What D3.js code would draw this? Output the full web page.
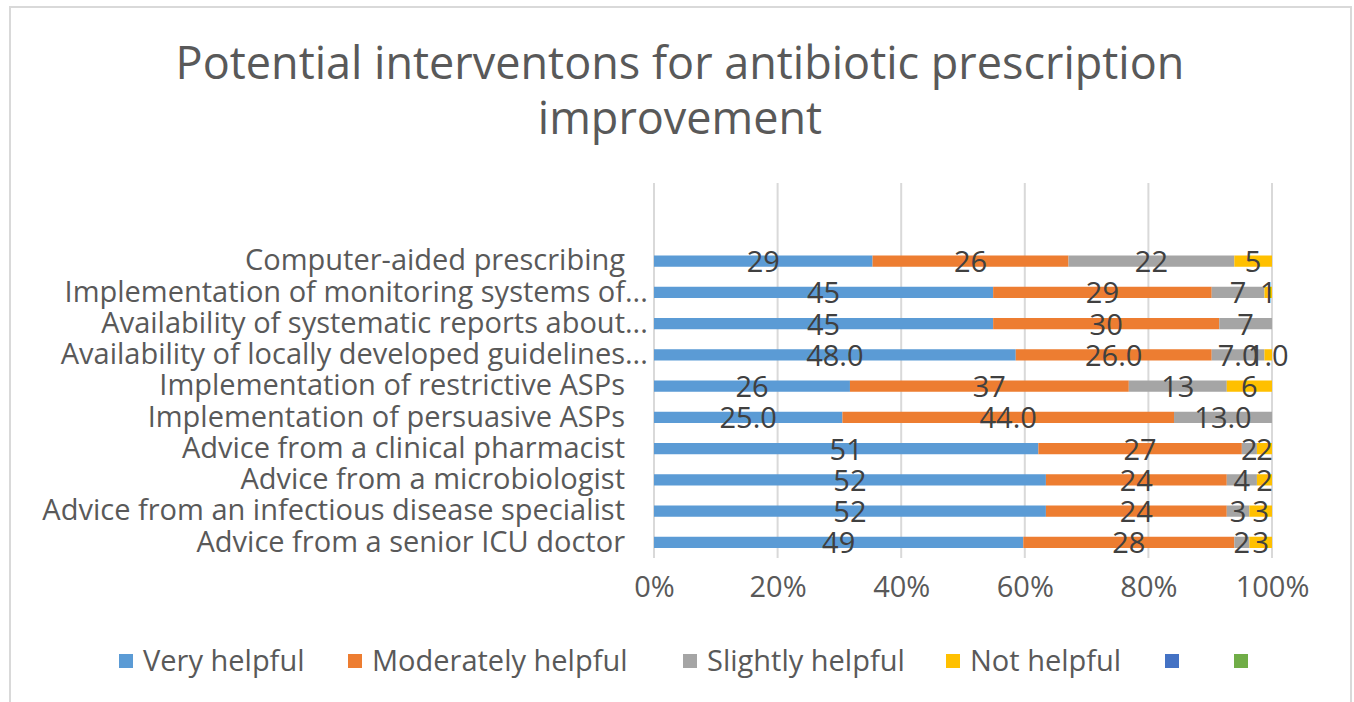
<!DOCTYPE html>
<html>
<head>
<meta charset="utf-8">
<script src="https://cdn.jsdelivr.net/npm/d3@7"></script>
<style>
  html, body { margin: 0; padding: 0; background: #FFFFFF; }
  svg { display: block; }
</style>
</head>
<body>
<div id="chart"></div>
<script>
// ---- Data (counts per rating, top row first as shown) ----
const categories = [
  'Computer-aided prescribing',
  'Implementation of monitoring systems of',
  'Availability of systematic reports about',
  'Availability of locally developed guidelines',
  'Implementation of restrictive ASPs',
  'Implementation of persuasive ASPs',
  'Advice from a clinical pharmacist',
  'Advice from a microbiologist',
  'Advice from an infectious disease specialist',
  'Advice from a senior ICU doctor'
]
const truncated = [false, true, true, true, false, false, false, false, false, false]
const veryHelpful = [29, 45, 45, 48, 26, 25, 51, 52, 52, 49]
const moderatelyHelpful = [26, 29, 30, 26, 37, 44, 27, 24, 24, 28]
const slightlyHelpful = [22, 7, 7, 7, 13, 13, 2, 4, 3, 2]
const notHelpful = [5, 1, null, 1, 6, null, 2, 2, 3, 3]
const labelDecimals = [0, 0, 0, 1, 0, 1, 0, 0, 0, 0]

const seriesNames = ['Very helpful', 'Moderately helpful', 'Slightly helpful', 'Not helpful', '', '']
const seriesColors = ['#5B9BD5', '#ED7D31', '#A5A5A5', '#FFC000', '#4472C4', '#70AD47']
const xTicks = [0, 0.2, 0.4, 0.6, 0.8, 1]

// ---- Layout ----
const W = 1354, H = 702
const plot = { left: 654, right: 1272, top: 183, bottom: 558 }
const font = '"Open Sans", sans-serif'
const textColor = '#595959'
const legendX = [119, 348, 683, 946, 1165, 1234]

const svg = d3.select('#chart').append('svg')
  .attr('width', W).attr('height', H)

// chart frame
svg.append('rect')
  .attr('x', 10).attr('y', 7)
  .attr('width', W - 13).attr('height', H + 20)
  .attr('fill', '#FFFFFF')
  .attr('stroke', '#D9D9D9').attr('stroke-width', 2)

// title
const title = svg.append('text')
  .attr('text-anchor', 'middle')
  .attr('fill', textColor)
  .attr('font-family', font).attr('font-size', '45px')
title.append('tspan').attr('x', 680).attr('y', 79).text('Potential interventons for antibiotic prescription')
title.append('tspan').attr('x', 680).attr('y', 134).text('improvement')

// ---- Scales ----
const x = d3.scaleLinear().domain([0, 1]).range([plot.left, plot.right])
// Excel leaves two empty slots above the first category
const step = (plot.bottom - plot.top) / 12
const y = d3.scaleBand()
  .domain(categories)
  .range([plot.bottom - categories.length * step, plot.bottom])
  .paddingInner(0.64).paddingOuter(0.32)

// gridlines
svg.append('g').selectAll('line').data(xTicks).join('line')
  .attr('x1', d => x(d)).attr('x2', d => x(d))
  .attr('y1', plot.top).attr('y2', plot.bottom)
  .attr('stroke', '#D9D9D9').attr('stroke-width', 2)

// x axis labels
const xAxis = svg.append('g')
  .attr('transform', `translate(0,${plot.bottom + 30})`)
  .call(d3.axisBottom(x).tickValues(xTicks).tickFormat(d3.format('.0%')).tickSize(0))
xAxis.select('.domain').remove()
xAxis.selectAll('.tick text')
  .attr('fill', textColor).attr('font-size', '29px').attr('font-family', font)
  .attr('dy', '0.2em')

// category labels
const yAxis = svg.append('g')
  .attr('transform', `translate(${plot.left - 29},0)`)
  .call(d3.axisLeft(y).tickSize(0).tickPadding(0))
yAxis.select('.domain').remove()
yAxis.selectAll('.tick text')
  .attr('fill', textColor).attr('font-size', '29px').attr('font-family', font)
yAxis.selectAll('.tick').filter((d, i) => truncated[i])
  .append('text')
  .attr('x', 0).attr('dy', '0.32em')
  .attr('text-anchor', 'start')
  .attr('fill', textColor).attr('font-size', '29px').attr('font-family', font)
  .text('...')

// ---- Stacked (100%) bars ----
const rows = categories.map((c, i) => {
  const vals = [veryHelpful[i], moderatelyHelpful[i], slightlyHelpful[i], notHelpful[i]]
  const total = d3.sum(vals)
  let acc = 0
  return vals.map((v, s) => {
    const seg = { cat: c, s, v, x0: acc / total, x1: (acc + (v || 0)) / total, dec: labelDecimals[i] }
    acc += v || 0
    return seg
  })
})
const segs = rows.flat()

svg.append('g').selectAll('rect').data(segs.filter(d => d.v)).join('rect')
  .attr('x', d => x(d.x0))
  .attr('y', d => y(d.cat))
  .attr('width', d => x(d.x1) - x(d.x0))
  .attr('height', y.bandwidth())
  .attr('fill', d => seriesColors[d.s])

svg.append('g').selectAll('text').data(segs.filter(d => d.v != null)).join('text')
  .attr('x', d => x((d.x0 + d.x1) / 2))
  .attr('y', d => y(d.cat) + y.bandwidth() / 2)
  .attr('dy', '0.38em')
  .attr('text-anchor', 'middle')
  .attr('fill', '#404040').attr('font-size', '29px').attr('font-family', font)
  .text(d => d.v.toFixed(d.dec))

// ---- Legend ----
const legend = svg.append('g').attr('transform', 'translate(0,661)')
seriesNames.forEach((name, i) => {
  const g = legend.append('g').attr('transform', `translate(${legendX[i]},0)`)
  g.append('rect').attr('x', 0).attr('y', -7).attr('width', 14).attr('height', 14)
    .attr('fill', seriesColors[i])
  g.append('text').attr('x', 24).attr('dy', '0.35em')
    .attr('fill', textColor).attr('font-size', '29px').attr('font-family', font)
    .text(name)
})
</script>
</body>
</html>
